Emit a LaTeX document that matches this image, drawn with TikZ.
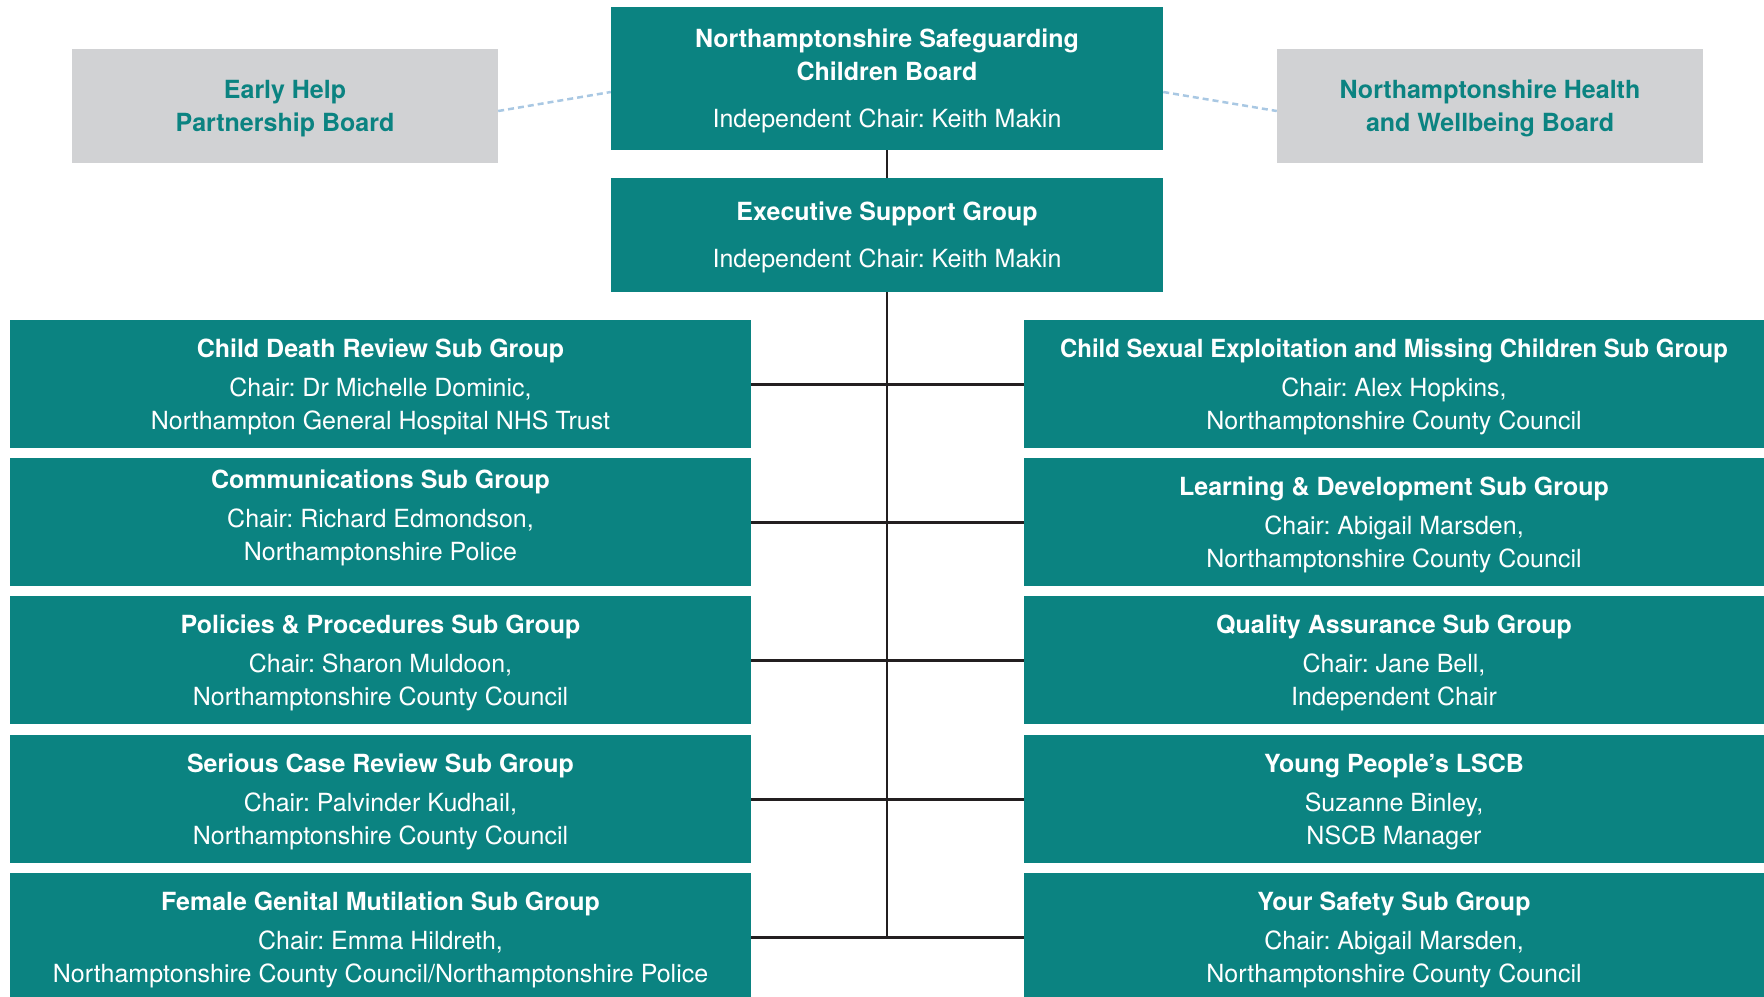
\documentclass[tikz,border=0pt]{standalone}
\usepackage{fontspec}
\setmainfont{TeX Gyre Heros}
\frenchspacing
\definecolor{nscbteal}{HTML}{0B8381}
\definecolor{nscbgray}{HTML}{D1D2D4}
\definecolor{linedark}{HTML}{231F20}
\definecolor{dashblue}{HTML}{A9C8E3}
\begin{document}
\begin{tikzpicture}[x=1pt,y=-1pt,
  tbox/.style={rectangle, fill=nscbteal, draw=none, inner sep=0pt, minimum height=128pt},
  lbox/.style={tbox, minimum width=741pt},
  rbox/.style={tbox, minimum width=740pt},
  topbox/.style={rectangle, fill=nscbteal, draw=none, inner sep=0pt, minimum width=552pt},
  gbox/.style={rectangle, fill=nscbgray, draw=none, inner sep=0pt, minimum width=426pt, minimum height=114pt},
  wtxt/.style={text=white, align=center, inner sep=0pt, yshift=-2.5pt, font=\fontsize{25}{33}\selectfont},
  gtxt/.style={text=nscbteal, align=center, inner sep=0pt, yshift=-2.5pt, font=\fontsize{25}{33}\selectfont\bfseries},
  conn/.style={draw=linedark, line width=3pt},
  vconn/.style={draw=linedark, line width=2pt},
  dashlink/.style={draw=dashblue, line width=2.5pt, dash pattern=on 6pt off 4pt}]
\useasboundingbox (0,0) rectangle (1764,996);
\clip (0,0) rectangle (1764,996);

% top boxes
\node[topbox, minimum height=143pt] (nscb) at (887,78.5) {};
\node[wtxt] (nscbt) at (nscb.center) {\textbf{Northamptonshire Safeguarding}\\\textbf{Children Board}\\[14pt]Independent Chair: Keith Makin};
\node[topbox, minimum height=114pt] (esg) at (887,235) {};
\node[wtxt] (esgt) at (esg.center) {\textbf{Executive Support Group}\\[13.5pt]Independent Chair: Keith Makin};

\node[gbox] (eh) at (285,106) {};
\node[gtxt] (eht) at (eh.center) {Early Help\\Partnership Board};
\node[gbox] (hw) at (1490,106) {};
\node[gtxt] (hwt) at (hw.center) {Northamptonshire Health\\and Wellbeing Board};

% left column
\node[lbox] (l1) at (380.5,384) {};
\node[lbox] (l2) at (380.5,522) {};
\node[lbox] (l3) at (380.5,660) {};
\node[lbox] (l4) at (380.5,799) {};
\node[lbox] (l5) at (380.5,937) {};
% right column
\node[rbox] (r1) at (1394,384) {};
\node[rbox] (r2) at (1394,522) {};
\node[rbox] (r3) at (1394,660) {};
\node[rbox] (r4) at (1394,799) {};
\node[rbox] (r5) at (1394,937) {};

\node[wtxt] (l1t) at (l1.center) {\textbf{Child Death Review Sub Group}\\[6pt]Chair: Dr Michelle Dominic,\\Northampton General Hospital NHS Trust};
\node[wtxt] (l2t) at ([yshift=7pt]l2.center) {\textbf{Communications Sub Group}\\[6pt]Chair: Richard Edmondson,\\Northamptonshire Police};
\node[wtxt] (l3t) at (l3.center) {\textbf{Policies \& Procedures Sub Group}\\[6pt]Chair: Sharon Muldoon,\\Northamptonshire County Council};
\node[wtxt] (l4t) at (l4.center) {\textbf{Serious Case Review Sub Group}\\[6pt]Chair: Palvinder Kudhail,\\Northamptonshire County Council};
\node[wtxt] (l5t) at (l5.center) {\textbf{Female Genital Mutilation Sub Group}\\[6pt]Chair: Emma Hildreth,\\Northamptonshire County Council/Northamptonshire Police};

\node[wtxt] (r1t) at (r1.center) {\textbf{\scalebox{0.96}[1]{Child Sexual Exploitation and Missing Children Sub Group}}\\[6pt]Chair: Alex Hopkins,\\Northamptonshire County Council};
\node[wtxt] (r2t) at (r2.center) {\textbf{Learning \& Development Sub Group}\\[6pt]Chair: Abigail Marsden,\\Northamptonshire County Council};
\node[wtxt] (r3t) at (r3.center) {\textbf{Quality Assurance Sub Group}\\[6pt]Chair: Jane Bell,\\Independent Chair};
\node[wtxt] (r4t) at (r4.center) {\textbf{Young People’s LSCB}\\[6pt]Suzanne Binley,\\NSCB Manager};
\node[wtxt] (r5t) at (r5.center) {\textbf{Your Safety Sub Group}\\[6pt]Chair: Abigail Marsden,\\Northamptonshire County Council};

% connectors
\draw[dashlink] ([yshift=-5pt]eh.east) -- ([yshift=-13.5pt]nscb.west);
\draw[dashlink] ([yshift=-13.5pt]nscb.east) -- ([yshift=-5pt]hw.west);
\draw[vconn] (nscb.south) -- (esg.north);
\coordinate (vend) at (esg.south |- l5.east);
\draw[vconn] (esg.south) -- ([yshift=-1pt]vend);
\draw[conn] (l1.east) -- (r1.west);
\draw[conn] (l2.east) -- (r2.west);
\draw[conn] (l3.east) -- (r3.west);
\draw[conn] (l4.east) -- (r4.west);
\draw[conn] (l5.east) -- (r5.west);
\end{tikzpicture}
\end{document}
